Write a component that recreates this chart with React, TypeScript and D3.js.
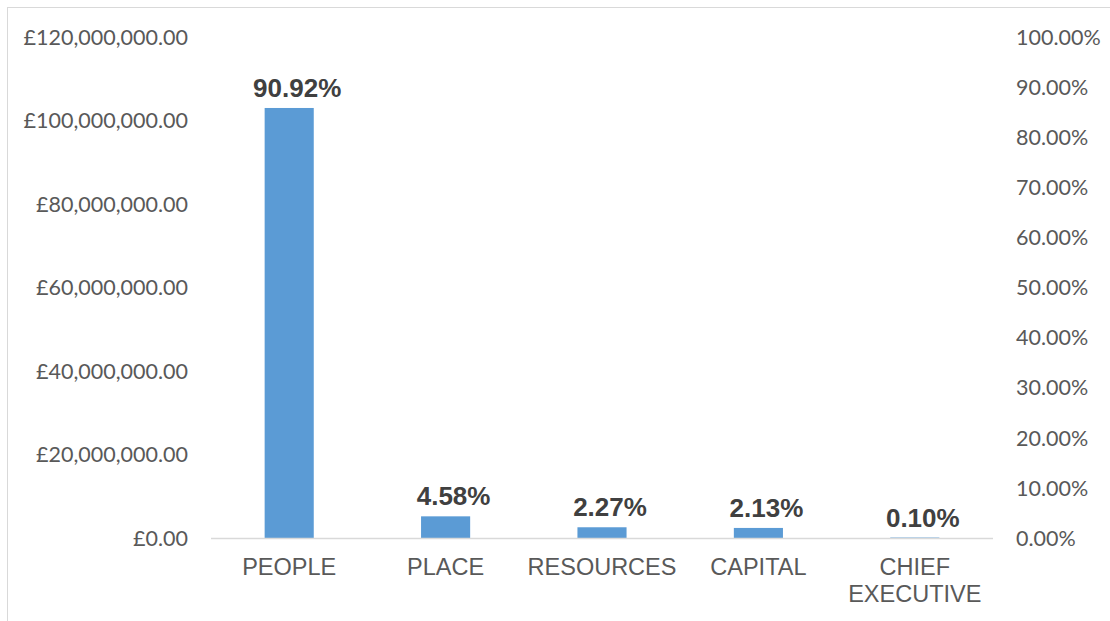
import React from "react";
import * as d3 from "d3";

const categories: string[][] = [["PEOPLE"], ["PLACE"], ["RESOURCES"], ["CAPITAL"], ["CHIEF", "EXECUTIVE"]];
const amounts: number[] = [103000000, 5190000, 2570000, 2410000, 113000];
const percentLabels: string[] = ["90.92%", "4.58%", "2.27%", "2.13%", "0.10%"];
const leftTicks: number[] = [0, 20000000, 40000000, 60000000, 80000000, 100000000, 120000000];
const rightTicks: number[] = [0, 0.1, 0.2, 0.3, 0.4, 0.5, 0.6, 0.7, 0.8, 0.9, 1.0];

const W = 1110;
const H = 621;
const plot = { left: 211, right: 993, top: 37, bottom: 538 };

export default function App() {
  const x = d3
    .scaleBand<number>()
    .domain(d3.range(categories.length))
    .range([plot.left, plot.right])
    .paddingInner(0.686)
    .paddingOuter(0.343);
  const y = d3.scaleLinear().domain([0, 120000000]).range([plot.bottom, plot.top]);
  const y2 = d3.scaleLinear().domain([0, 1]).range([plot.bottom, plot.top]);
  const fmtMoney = (v: number) => "£" + d3.format(",.2f")(v);
  const fmtPct = (v: number) => d3.format(".2%")(v);
  const tickFont = "Lato, 'Open Sans', sans-serif";
  const arial = "'Liberation Sans', Arial, sans-serif";

  return (
    <svg width={W} height={H} style={{ position: "absolute", left: 0, top: 0, background: "#fff" }}>
      <rect x={7.5} y={7.5} width={W} height={H} fill="#fff" stroke="#d9d9d9" strokeWidth={1} />
      {leftTicks.map((t) => (
        <text key={"l" + t} x={188} y={y(t)} dy="0.36em" textAnchor="end" fontFamily={tickFont} fontSize={21.5} fill="#595959">
          {fmtMoney(t)}
        </text>
      ))}
      {rightTicks.map((t) => (
        <text key={"r" + t} x={1016} y={y2(t)} dy="0.36em" textAnchor="start" fontFamily={tickFont} fontSize={21.5} fill="#595959">
          {fmtPct(t)}
        </text>
      ))}
      {amounts.map((v, i) => (
        <rect key={"b" + i} x={x(i)!} y={y(v)} width={x.bandwidth()} height={plot.bottom - y(v)} fill="#5B9BD5" />
      ))}
      <line x1={plot.left} x2={plot.right} y1={plot.bottom + 0.5} y2={plot.bottom + 0.5} stroke="#d9d9d9" strokeWidth={1.5} />
      {amounts.map((v, i) => (
        <text
          key={"p" + i}
          x={x(i)! + x.bandwidth() / 2 + 8}
          y={y(v) - 11}
          textAnchor="middle"
          fontFamily={arial}
          fontWeight="bold"
          fontSize={26}
          fill="#404040"
        >
          {percentLabels[i]}
        </text>
      ))}
      {categories.map((lines, i) => (
        <text key={"c" + i} x={x(i)! + x.bandwidth() / 2} y={575} textAnchor="middle" fontFamily={arial} fontSize={23.5} fill="#595959">
          {lines.map((ln, j) => (
            <tspan key={j} x={x(i)! + x.bandwidth() / 2} dy={j === 0 ? 0 : 27}>
              {ln}
            </tspan>
          ))}
        </text>
      ))}
    </svg>
  );
}
